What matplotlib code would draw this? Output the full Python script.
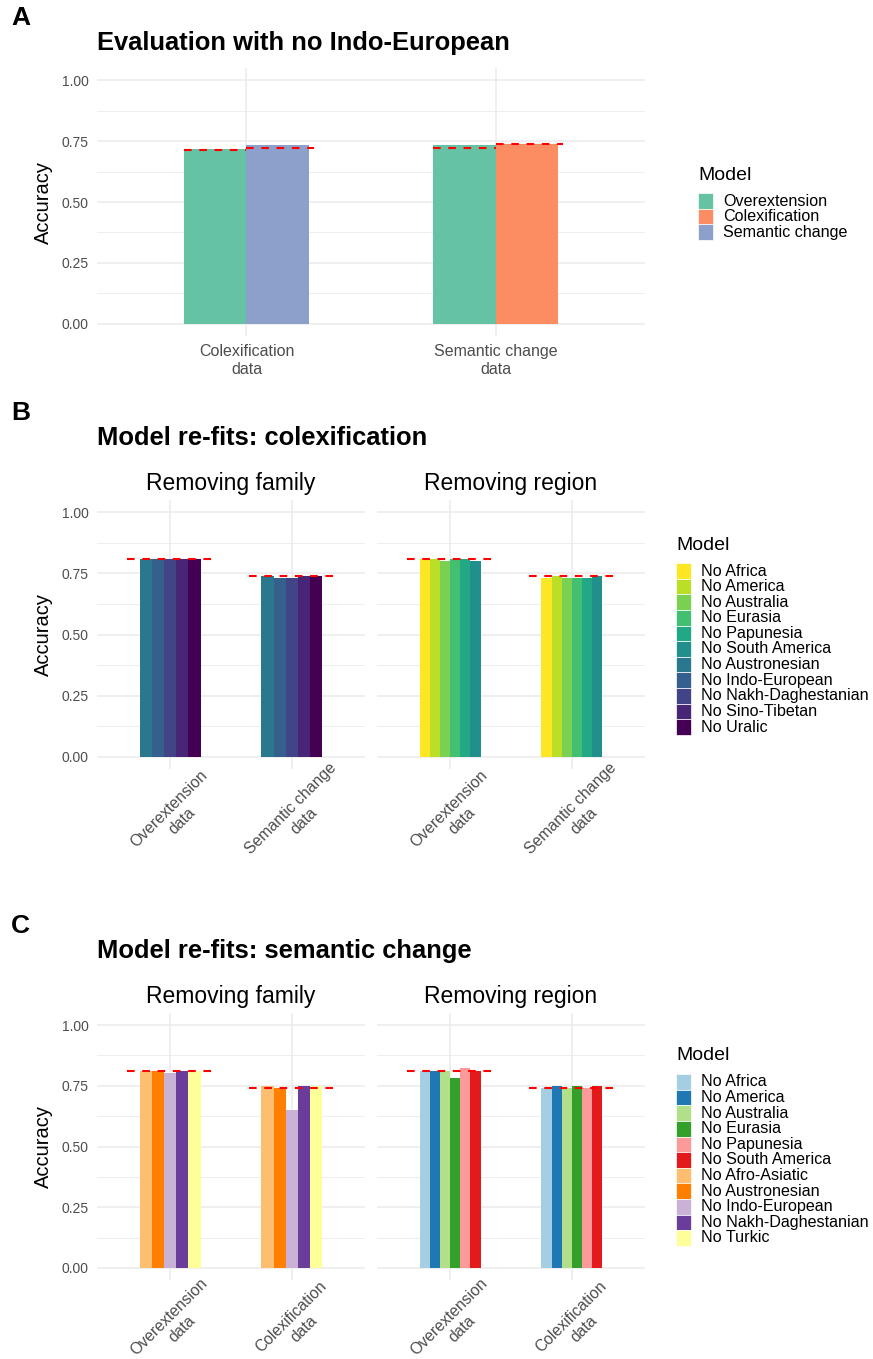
import matplotlib
matplotlib.use("Agg")
import matplotlib.pyplot as plt

plt.rcParams['font.family'] = ['Liberation Sans', 'DejaVu Sans']
plt.rcParams['lines.scale_dashes'] = False

# ---- data ----
# panel A
a_groups = ["Colexification\ndata", "Semantic change\ndata"]
a_models = [["Overextension", "Semantic change"], ["Overextension", "Colexification"]]
a_values = [[0.719, 0.732], [0.732, 0.740]]
a_baseline = [[0.712, 0.721], [0.721, 0.740]]
a_legend = ["Overextension", "Colexification", "Semantic change"]
a_colors = {"Overextension": "#66C2A5", "Colexification": "#FC8D62", "Semantic change": "#8DA0CB"}

# panel B (colexification model re-fits)
b_groups = ["Overextension\ndata", "Semantic change\ndata"]
b_family = ["No Austronesian", "No Indo-European", "No Nakh-Daghestanian", "No Sino-Tibetan", "No Uralic"]
b_family_values = [[0.810, 0.810, 0.810, 0.810, 0.810],
                   [0.740, 0.732, 0.732, 0.740, 0.740]]
b_region = ["No Africa", "No America", "No Australia", "No Eurasia", "No Papunesia", "No South America"]
b_region_values = [[0.810, 0.810, 0.802, 0.810, 0.810, 0.802],
                   [0.732, 0.740, 0.732, 0.732, 0.732, 0.740]]
b_baseline = [0.810, 0.740]
b_legend = b_region + b_family
b_colors = dict(zip(b_legend, ["#FDE725", "#BBDF27", "#7AD151", "#43BF71", "#22A884", "#21908C",
                               "#2A788E", "#35608D", "#414487", "#482576", "#440154"]))

# panel C (semantic change model re-fits)
c_groups = ["Overextension\ndata", "Colexification\ndata"]
c_family = ["No Afro-Asiatic", "No Austronesian", "No Indo-European", "No Nakh-Daghestanian", "No Turkic"]
c_family_values = [[0.810, 0.810, 0.802, 0.810, 0.810],
                   [0.751, 0.740, 0.650, 0.751, 0.751]]
c_region = ["No Africa", "No America", "No Australia", "No Eurasia", "No Papunesia", "No South America"]
c_region_values = [[0.810, 0.810, 0.810, 0.781, 0.822, 0.810],
                   [0.740, 0.751, 0.740, 0.751, 0.740, 0.751]]
c_baseline = [0.810, 0.740]
c_legend = c_region + c_family
c_colors = dict(zip(c_legend, ["#A6CEE3", "#1F78B4", "#B2DF8A", "#33A02C", "#FB9A99", "#E31A1C",
                               "#FDBF6F", "#FF7F00", "#CAB2D6", "#6A3D9A", "#FFFF99"]))

W, H = 873, 1359
fig = plt.figure(figsize=(W / 100, H / 100), dpi=100)
GRID = "#EBEBEB"
TICK = "#4D4D4D"


def px_axes(x0, y0, x1, y1):
    return fig.add_axes([x0 / W, 1 - y1 / H, (x1 - x0) / W, (y1 - y0) / H])


def ftext(x, y, s, **kw):
    fig.text(x / W, 1 - y / H, s, **kw)


def style(ax, ngroups, show_y=True):
    ax.set_xlim(0.4, ngroups + 0.6)
    ax.set_ylim(-0.05, 1.05)
    for s in ax.spines.values():
        s.set_visible(False)
    for y in [0, 0.25, 0.5, 0.75, 1.0]:
        ax.axhline(y, color=GRID, lw=1.1, zorder=0)
    for y in [0.125, 0.375, 0.625, 0.875]:
        ax.axhline(y, color=GRID, lw=0.6, zorder=0)
    for x in range(1, ngroups + 1):
        ax.axvline(x, color=GRID, lw=1.1, zorder=0)
    ax.set_yticks([0, 0.25, 0.5, 0.75, 1.0])
    if show_y:
        ax.set_yticklabels(["0.00", "0.25", "0.50", "0.75", "1.00"], color=TICK, fontsize=10)
    else:
        ax.set_yticklabels([])
    ax.tick_params(length=0, pad=6)


def dodge(ax, values, names, colors, baseline):
    for g, (vals, nms) in enumerate(zip(values, names)):
        n = len(vals)
        w = 0.5 / n
        xs = [g + 1 + (i - (n - 1) / 2) * w for i in range(n)]
        ax.bar(xs, vals, width=w, color=[colors[m] for m in nms], zorder=2)
        ax.plot([g + 1 - 0.35, g + 1 + 0.35], [baseline[g]] * 2, color="red",
                lw=1.5, dashes=(5.5, 5.5), zorder=3)


def rot_labels(ax, labels, dy):
    ax.set_xticks(range(1, len(labels) + 1))
    ax.set_xticklabels([])
    for i, lab in enumerate(labels):
        ax.annotate(lab, xy=(i + 1, -0.05), xycoords="data", xytext=(4, dy),
                    textcoords="offset points", rotation=45, rotation_mode="anchor",
                    ha="center", va="center", multialignment="center",
                    color=TICK, fontsize=11.3, annotation_clip=False)


def legend(x, y, labels, colors, step):
    ftext(x, y, "Model", fontsize=14, va="center", ha="left", color="black")
    for i, lab in enumerate(labels):
        yy = y + 26 + i * step
        fig.patches.append(matplotlib.patches.Rectangle(
            (x / W, 1 - (yy + step / 2) / H), 15 / W, step / H,
            transform=fig.transFigure, color=colors[lab], ec="white", lw=0.5))
        ftext(x + 25, yy, lab, fontsize=11.6, va="center", ha="left")


# ---- panel A ----
axA = px_axes(97, 68, 645, 336)
style(axA, 2)
for g, (vals, nms) in enumerate(zip(a_values, a_models)):
    w = 0.25
    xs = [g + 1 - w / 2, g + 1 + w / 2]
    axA.bar(xs, vals, width=w, color=[a_colors[m] for m in nms], zorder=2)
    axA.plot([g + 1 - 0.25, g + 1], [a_baseline[g][0]] * 2, color="red", lw=1.5,
             dashes=(5.5, 5.5), zorder=3)
    axA.plot([g + 1, g + 1.27], [a_baseline[g][1]] * 2, color="red", lw=1.5,
             dashes=(5.5, 5.5), zorder=3)
axA.set_xticks([1, 2])
axA.set_xticklabels(a_groups, color=TICK, fontsize=11.5)
axA.tick_params(axis="x", pad=6)
axA.set_ylabel("Accuracy", fontsize=14.5, labelpad=6)
ftext(11, 18, "A", fontsize=19, fontweight="bold", va="center")
ftext(97, 43, "Evaluation with no Indo-European", fontsize=18.4, fontweight="bold", va="center")
legend(698, 175, a_legend, a_colors, 15.5)

# ---- panels B and C ----
panels = [
    (500, 769, "B", "Model re-fits: colexification", b_groups, b_family, b_family_values,
     b_region, b_region_values, b_baseline, b_legend, b_colors, 545, -33),
    (1013, 1280, "C", "Model re-fits: semantic change", c_groups, c_family, c_family_values,
     c_region, c_region_values, c_baseline, c_legend, c_colors, 1056, -31),
]
for (top, bot, letter, title, groups, fam, fam_vals, reg, reg_vals, base,
     leg, cols, leg_y, lab_dy) in panels:
    axL = px_axes(97, top, 365, bot)
    axR = px_axes(377, top, 645, bot)
    style(axL, 2)
    style(axR, 2, show_y=False)
    dodge(axL, fam_vals, [fam, fam], cols, base)
    dodge(axR, reg_vals, [reg, reg], cols, base)
    rot_labels(axL, groups, lab_dy)
    rot_labels(axR, groups, lab_dy)
    axL.set_ylabel("Accuracy", fontsize=14.5, labelpad=6)
    axL.set_title("Removing family", fontsize=16.5, pad=7)
    axR.set_title("Removing region", fontsize=16.5, pad=7)
    ftext(11, top - 87, letter, fontsize=19, fontweight="bold", va="center")
    ftext(97, top - 62, title, fontsize=18.4, fontweight="bold", va="center")
    legend(676, leg_y, leg, cols, 15.6)

fig.savefig("out.png", dpi=100, facecolor="white")
